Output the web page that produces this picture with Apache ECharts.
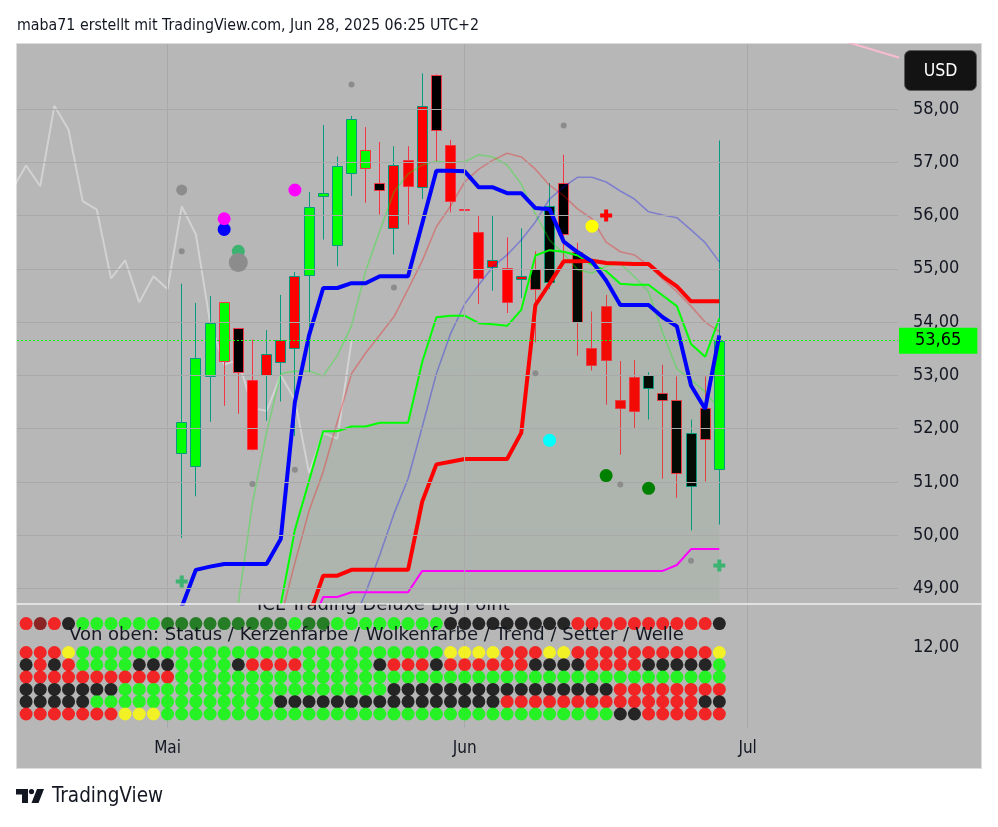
<!DOCTYPE html>
<html>
<head>
<meta charset="utf-8">
<title>ICL chart</title>
<script src="https://cdn.jsdelivr.net/npm/echarts@6/dist/echarts.min.js"></script>
<style>
html,body{margin:0;padding:0;background:#fff;}
#chart{width:998px;height:827px;}
</style>
</head>
<body>
<div id="chart"></div>
<script>
// ---------------- DATA ----------------
// x = bar index (10 = 1 May, 31 = 2 Jun, 49 = 27 Jun, 51 = 1 Jul)
const FIRST_CANDLE = 11;
const candleOpen  = [51.55,51.30,52.99,54.37,53.89,52.92,53.00,53.25,53.51,54.89,56.36,55.45,56.80,57.23,56.62,55.76,57.04,56.54,58.64,57.32,56.13,55.69,55.03,55.01,54.81,54.99,54.75,56.61,55.31,53.51,54.30,52.53,52.97,52.77,52.67,52.53,50.93,52.38,51.24];
const candleHigh  = [54.72,54.36,54.49,54.37,53.89,53.67,53.85,54.51,54.94,56.44,57.70,57.11,57.87,57.66,57.38,57.30,57.30,58.67,58.65,57.42,56.72,56.01,56.00,55.59,55.76,55.33,56.61,57.14,55.49,54.20,54.51,53.27,53.29,53.06,53.20,52.98,52.17,52.98,57.41];
const candleLow   = [49.95,50.73,52.13,52.43,52.28,51.59,52.15,52.51,51.86,53.06,55.55,55.05,56.37,56.24,56.02,55.27,55.83,56.31,57.02,56.06,54.95,54.34,54.59,54.17,54.45,53.62,54.62,55.15,53.37,53.09,52.45,51.51,52.00,52.17,51.06,50.70,50.09,51.01,50.20];
const candleClose = [52.12,53.32,53.98,53.27,53.06,51.61,53.40,53.66,54.86,56.16,56.42,56.93,57.81,56.89,56.48,56.94,56.55,58.06,57.61,56.27,56.11,54.82,55.16,54.37,54.86,54.62,56.17,55.65,54.00,53.20,53.29,52.39,52.33,53.00,52.54,51.17,51.92,51.81,53.65];

const tenkanStart = 11;
const tenkan = [48.65,49.35,49.41,49.46,49.46,49.46,49.46,49.93,52.50,53.75,54.64,54.64,54.73,54.73,54.86,54.86,54.86,55.85,56.84,56.84,56.83,56.53,56.53,56.42,56.42,56.14,56.12,55.51,55.31,55.14,54.78,54.32,54.32,54.32,54.09,53.92,52.81,52.37,53.75];
const kijunStart = 20;
const kijun = [48.49,49.24,49.24,49.35,49.35,49.35,49.35,49.35,50.63,51.33,51.38,51.43,51.43,51.43,51.43,51.92,54.32,54.72,55.14,55.14,55.15,55.11,55.10,55.09,55.09,54.86,54.67,54.39,54.39,54.39];
const spanAStart = 18;
const spanA = [48.70,50.10,51.02,51.95,51.95,52.04,52.04,52.11,52.11,52.11,53.25,54.09,54.12,54.12,53.98,53.96,53.93,54.23,55.25,55.35,55.32,55.25,55.08,54.96,54.72,54.70,54.70,54.50,54.30,53.59,53.35,54.07];
const spanBStart = 20;
const spanB = [48.20,48.84,48.84,48.93,48.93,48.93,48.93,48.93,49.33,49.33,49.33,49.33,49.33,49.33,49.33,49.33,49.33,49.33,49.33,49.33,49.33,49.33,49.33,49.33,49.33,49.33,49.44,49.74,49.74,49.74];
const fastStart = 15;
const fastLine = [48.73,50.60,51.93,53.03,53.08,53.08,52.99,53.37,53.93,54.96,55.71,56.44,56.78,56.95,57.02,56.99,57.01,57.14,57.10,56.95,56.59,56.03,55.54,55.28,54.98,54.92,55.05,55.10,54.85,54.57,53.80,53.12,52.92,52.69,52.37];
const midStart = 18;
const midLine = [48.45,49.48,50.46,51.19,52.13,53.03,53.42,53.76,54.10,54.62,55.15,55.79,56.18,56.63,56.87,57.04,57.17,57.10,56.87,56.57,56.37,56.12,55.94,55.50,55.32,55.26,55.06,54.81,54.57,54.30,54.00,53.82];
const slowStart = 23;
const slowLine = [48.30,48.92,49.63,50.40,51.06,52.03,53.03,53.78,54.34,54.70,55.04,55.26,55.54,55.88,56.31,56.54,56.72,56.72,56.63,56.46,56.31,56.07,56.01,55.96,55.73,55.49,55.13];
const laggingStart = -1;
const lagging = [56.48,56.94,56.55,58.06,57.61,56.27,56.11,54.82,55.16,54.37,54.86,54.62,56.17,55.65,54.00,53.20,53.29,52.39,52.33,53.00,52.54,51.17,51.92,51.81,53.65];
const upperIdx = [57, 62];
const upperVals = [59.34, 58.94];

// markers [barIndex, price]
const smallGrayDots = [[11,55.33],[16,50.96],[19,51.23],[23,58.46],[26,54.65],[36,53.04],[38,57.69],[42,50.95],[47,49.52]];
const grayDotMid = [[11,56.48]];
const grayDotBig = [[15,55.12]];
const seaGreenDots = [[15,55.33]];
const blueDots = [[14,55.74]];
const magentaDots = [[14,55.94],[19,56.48]];
const yellowDots = [[40,55.80]];
const cyanDots = [[37,51.78]];
const darkGreenDots = [[41,51.12],[44,50.88]];
const redCrosses = [[41,56.00]];
const greenCrosses = [[11,49.13],[49,49.43]];

const lastPrice = 53.65;
const priceTicks = [49,50,51,52,53,54,55,56,57,58];
const paneTicks = [12];
const monthIdx = [10,31,51];
const monthLabels = ['Mai','Jun','Jul'];

// lower pane: rows of coloured dots, run-length coded, starting at bar -1
const ROW_START = -1;
const rowLevels = [13.9, 11.55, 10.55, 9.55, 8.55, 7.55, 6.55];
const rowRuns = [
  [['.',1],['R',1],['M',1],['R',1],['K',1],['G',6],['D',9],['G',1],['D',2],['G',8],['K',9],['R',10],['K',1]],
  [['Y',1],['R',3],['Y',1],['G',26],['Y',4],['R',3],['Y',2],['R',10],['Y',1]],
  [['G',1],['K',1],['R',1],['K',1],['R',1],['G',4],['K',3],['G',4],['K',1],['R',4],['G',5],['K',1],['R',3],['K',1],['R',6],['K',4],['R',4],['K',5],['G',1]],
  [['R',12],['G',39]],
  [['K',8],['G',19],['K',16],['R',8]],
  [['K',6],['G',13],['K',16],['R',14],['K',2]],
  [['R',8],['Y',3],['G',32],['K',2],['R',6]]
];

// ---------------- STYLE ----------------
const FC = '"DejaVu Sans Condensed", "DejaVu Sans", sans-serif';
const FD = '"DejaVu Sans", sans-serif';
const TXT = '#131722';
const DOT_COLORS = {R:'#ff0000', G:'#00ff00', K:'#000000', Y:'#ffff00', D:'#006e00', M:'#800000'};
const UP_BORDER = '#089981', DOWN_BORDER = '#f23645';
const X_MIN = -0.643, X_MAX = 61.63;
const Y_MIN = 48.718, Y_MAX = 59.22;
const fmt = v => Number(v).toFixed(2).replace('.', ',');
const CROSS = 'path://M4,0L8,0L8,4L12,4L12,8L8,8L8,12L4,12L4,8L0,8L0,4L4,4Z';

// ---------------- BUILD ----------------
const statusRows = rowRuns.map(runs => {
  const out = [];
  runs.forEach(([c, n]) => { for (let k = 0; k < n; k++) out.push(c); });
  return out;
});
const kerzen = statusRows[2];
const lowerDots = [];
statusRows.forEach((row, r) => row.forEach((code, k) => {
  if (code !== '.') lowerDots.push({value:[ROW_START + k, rowLevels[r]], itemStyle:{color: DOT_COLORS[code]}});
}));
const candleData = candleOpen.map((o, k) => [FIRST_CANDLE + k, o, candleClose[k], candleLow[k], candleHigh[k]]);
const pairs = (start, vals) => vals.map((v, k) => [start + k, v]);

function lineSeries(data, color, width, extra) {
  return Object.assign({
    type:'line', xAxisIndex:0, yAxisIndex:0, data: data, symbol:'none', showSymbol:false,
    lineStyle:{color: color, width: width}, z:4, silent:true, clip:true, emphasis:{disabled:true}
  }, extra || {});
}
function markerSeries(data, color, size, symbol) {
  return {type:'scatter', xAxisIndex:0, yAxisIndex:0, data: data, symbol: symbol || 'circle',
    symbolSize: size, itemStyle:{color: color, opacity:1}, z:5, silent:true, emphasis:{disabled:true}};
}

const axisLabelStyle = {fontSize:18, fontFamily:FC, color:TXT};

const chart = echarts.init(document.getElementById('chart'), null, {renderer:'canvas'});
const option = {
  backgroundColor:'#ffffff',
  animation:false,
  grid:[
    {left:17, top:44, width:881, height:559.5},
    {left:17, top:605, width:881, height:123}
  ],
  xAxis:[
    {gridIndex:0, type:'value', min:X_MIN, max:X_MAX, axisLine:{show:false}, axisTick:{show:false}, axisLabel:{show:false}, splitLine:{show:false}},
    {gridIndex:1, type:'value', min:X_MIN, max:X_MAX, axisLine:{show:false}, axisTick:{show:false}, splitLine:{show:false},
      axisLabel:{customValues: monthIdx, formatter: v => monthLabels[monthIdx.indexOf(Math.round(v))], margin:12, fontSize:17, fontFamily:FC, color:TXT}}
  ],
  yAxis:[
    {gridIndex:0, type:'value', position:'right', min:Y_MIN, max:Y_MAX, axisLine:{show:false}, axisTick:{show:false}, splitLine:{show:false},
      axisLabel:Object.assign({customValues: priceTicks, formatter: fmt, margin:15}, axisLabelStyle)},
    {gridIndex:1, type:'value', position:'right', min:5.41, max:15.41, axisLine:{show:false}, axisTick:{show:false}, splitLine:{show:false},
      axisLabel:Object.assign({customValues: paneTicks, formatter: fmt, margin:15}, axisLabelStyle)}
  ],
  series:[
    // grid lines
    {type:'line', xAxisIndex:0, yAxisIndex:0, data:[], z:1, silent:true,
      markLine:{silent:true, symbol:['none','none'], label:{show:false}, lineStyle:{color:'#a9a9a9', width:1, type:'solid'},
        data: priceTicks.map(v => ({yAxis:v})).concat(monthIdx.map(v => ({xAxis:v})))}},
    {type:'line', xAxisIndex:1, yAxisIndex:1, data:[], z:1, silent:true,
      markLine:{silent:true, symbol:['none','none'], label:{show:false}, lineStyle:{color:'#a9a9a9', width:1, type:'solid'},
        data: monthIdx.map(v => ({xAxis:v}))}},
    // lagging line + last price line
    lineSeries(pairs(laggingStart, lagging), 'rgba(255,255,255,0.38)', 2, {z:2,
      markLine:{silent:true, symbol:['none','none'], data:[{yAxis:lastPrice}],
        lineStyle:{color:'#00ff00', width:1, type:[2,2]},
        label:{show:true, position:'end', distance:1, formatter: () => fmt(lastPrice), backgroundColor:'#00ff00',
          color:'#000000', fontSize:18, fontFamily:FC, padding:[4,16,4,16]}}}),
    // candles
    {type:'custom', xAxisIndex:0, yAxisIndex:0, z:3, silent:true, data:candleData, encode:{x:0, y:[1,2,3,4]},
      renderItem: function (params, api) {
        const i = api.value(0), o = api.value(1), c = api.value(2), l = api.value(3), h = api.value(4);
        const border = c >= o ? UP_BORDER : DOWN_BORDER;
        const fill = DOT_COLORS[kerzen[i - ROW_START]];
        const pO = api.coord([i, o]), pC = api.coord([i, c]), pH = api.coord([i, h]), pL = api.coord([i, l]);
        const xc = Math.floor(pO[0]) + 0.5;
        const bw = 10;
        const yTop = Math.round(Math.min(pO[1], pC[1])) + 0.5;
        const yBot = Math.round(Math.max(pO[1], pC[1])) + 0.5;
        return {type:'group', children:[
          {type:'line', shape:{x1:xc, y1:pH[1], x2:xc, y2:pL[1]}, style:{stroke:border, lineWidth:1}},
          {type:'rect', shape:{x:xc - bw / 2, y:yTop, width:bw, height:Math.max(yBot - yTop, 1)}, style:{fill:fill, stroke:border, lineWidth:1}}
        ]};
      }},
    // thin lines
    lineSeries(pairs(fastStart, fastLine), 'rgba(0,255,0,0.32)', 1.6),
    lineSeries(pairs(midStart, midLine), 'rgba(255,0,0,0.3)', 1.6),
    lineSeries(pairs(slowStart, slowLine), 'rgba(0,0,255,0.3)', 1.6),
    // cloud line with fill
    lineSeries(pairs(spanAStart, spanA), '#00ff00', 2, {areaStyle:{color:'rgba(60,160,60,0.1)', origin:'start'}}),
    lineSeries(pairs(spanBStart, spanB), '#ff00ff', 2),
    lineSeries(pairs(kijunStart, kijun), '#ff0000', 4),
    lineSeries(pairs(tenkanStart, tenkan), '#0000ff', 4),
    lineSeries(upperIdx.map((x, k) => [x, upperVals[k]]), '#f8bbd0', 2),
    // markers
    markerSeries(smallGrayDots, '#8c8c8c', 6),
    markerSeries(seaGreenDots, '#3cb371', 13),
    markerSeries(grayDotMid, '#8c8c8c', 11),
    markerSeries(grayDotBig, '#8c8c8c', 19),
    markerSeries(blueDots, '#0000ff', 13),
    markerSeries(magentaDots, '#ff00ff', 13),
    markerSeries(yellowDots, '#ffff00', 13),
    markerSeries(cyanDots, '#00ffff', 13),
    markerSeries(darkGreenDots, '#008000', 13),
    markerSeries(redCrosses, '#ff0000', 12, CROSS),
    markerSeries(greenCrosses, '#3cb371', 12, CROSS),
    // lower pane dots
    {type:'scatter', xAxisIndex:1, yAxisIndex:1, data:lowerDots, symbolSize:13, z:5, silent:true, clip:true, emphasis:{disabled:true}}
  ],
  graphic:[
    {type:'rect', z:-100, silent:true, shape:{x:16.5, y:43.5, width:965, height:725}, style:{fill:'#b7b7b7', stroke:'#dcdcdc', lineWidth:1}},
    {type:'text', z:-50, x:257, y:605, style:{text:'ICL Trading Deluxe Big Point', fontSize:18, fontFamily:FD, fill:TXT, verticalAlign:'middle'}},
    {type:'rect', z:-40, silent:true, shape:{x:250, y:586, width:290, height:17.5}, style:{fill:'#b7b7b7'}},
    {type:'line', z:20, silent:true, shape:{x1:16.5, y1:604, x2:981.5, y2:604}, style:{stroke:'#efefef', lineWidth:1.5}},
    {type:'text', z:20, x:69, y:635, style:{text:'Von oben: Status / Kerzenfarbe / Wolkenfarbe / Trend / Setter / Welle', fontSize:18, fontFamily:FD, fill:TXT, verticalAlign:'middle'}},
    {type:'text', z:20, x:17, y:25.5, style:{text:'maba71 erstellt mit TradingView.com, Jun 28, 2025 06:25 UTC+2', fontSize:15.8, fontFamily:FC, fill:TXT, verticalAlign:'middle'}},
    {type:'rect', z:20, shape:{x:904.5, y:50.5, width:72, height:40, r:6}, style:{fill:'#131313', stroke:'#5c5c5c', lineWidth:1}},
    {type:'text', z:21, x:940.5, y:71, style:{text:'USD', fontSize:17.5, fontFamily:FC, fill:'#ffffff', align:'center', verticalAlign:'middle'}},
    {type:'polygon', z:20, shape:{points:[[16,789],[28,789],[28,803],[22,803],[22,794.5],[16,794.5]]}, style:{fill:TXT}},
    {type:'circle', z:20, shape:{cx:31.5, cy:791.6, r:2.6}, style:{fill:TXT}},
    {type:'polygon', z:20, shape:{points:[[37,789],[44,789],[38.5,803],[31.5,803]]}, style:{fill:TXT}},
    {type:'text', z:20, x:52, y:797, style:{text:'TradingView', fontSize:20.5, fontFamily:FC, fill:TXT, verticalAlign:'middle'}}
  ]
};
chart.setOption(option);
</script>
</body>
</html>
